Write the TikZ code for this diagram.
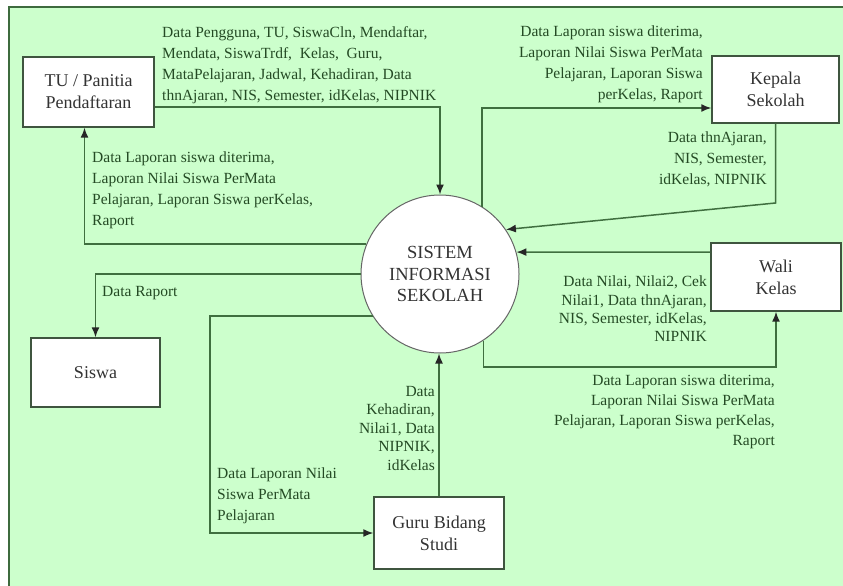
\documentclass[tikz,border=0pt]{standalone}
\usepackage{fontspec}
\setmainfont{Liberation Serif}
\usetikzlibrary{arrows.meta}
\definecolor{bggreen}{HTML}{CCFFCC}
\definecolor{framegreen}{HTML}{3E6B3E}
\definecolor{linegreen}{HTML}{3F6F3F}
\definecolor{lblgreen}{HTML}{244A24}
\definecolor{boxtext}{HTML}{333333}
\definecolor{boxedge}{HTML}{3F553F}
\tikzset{
  entity/.style={draw=boxedge, line width=1.4pt, fill=white, align=center, text=boxtext,
    font=\fontsize{18}{22}\selectfont, inner sep=0pt},
  proc/.style={circle, draw=black!60, line width=1pt, fill=white, align=center, text=boxtext,
    font=\fontsize{18.5}{21.5}\selectfont, inner sep=0pt, minimum size=158pt},
  lbl/.style={inner sep=0pt, text=lblgreen, font=\fontsize{15.5}{21}\selectfont},
  flow/.style={draw=linegreen, line width=1.5pt, -{Latex[length=10pt,width=8pt,color=black!85]}},
}
\begin{document}
\begin{tikzpicture}[x=1pt,y=-1pt]
\useasboundingbox (0,0) rectangle (843,586);
\fill[bggreen] (9,7) rectangle (850,590);
\draw[framegreen, line width=1.5pt] (9,590) -- (9,7) -- (850,7);

% nodes
\node[entity, minimum width=131pt, minimum height=70pt] (T) at (88.5,92) {TU / Panitia\\Pendaftaran};
\node[entity, minimum width=127pt, minimum height=67pt] (K) at (775.5,89.5) {Kepala\\Sekolah};
\node[entity, minimum width=130pt, minimum height=68pt] (W) at (776,277) {Wali\\Kelas};
\node[entity, minimum width=129pt, minimum height=69pt] (S) at (95.5,372.5) {Siswa};
\node[entity, minimum width=130pt, minimum height=72pt] (G) at (439,533) {Guru Bidang\\Studi};
\node[proc] (C) at (440,274) {SISTEM\\INFORMASI\\SEKOLAH};

% flows
\draw[flow] ([yshift=-15pt]T.east) -| (C.north);
\draw[flow] (C.158) -| ([xshift=-4pt]T.south);
\draw[flow] (C.58) |- ([yshift=-18.5pt]K.west);
\draw[flow] (K.south) -- (K.south |- 0,203) -- (C.34);
\draw[flow] ([yshift=25pt]W.west) -- (C.16);
\draw[flow] (C.-57) -- (C.-57 |- 0,367) -| (W.south);
\draw[flow] (C.west) -| (S.north);
\draw[flow] (C.212) -| (210,533) -- (G.west);
\draw[flow] (G.north) -- (G.north |- C.south);

% labels
\node[lbl, anchor=north west, align=left] (l1) at (162,26)
  {Data Pengguna, TU, SiswaCln, Mendaftar,\\Mendata, SiswaTrdf,\ \ Kelas,\ \ Guru,\\MataPelajaran, Jadwal, Kehadiran, Data\\thnAjaran, NIS, Semester, idKelas, NIPNIK};
\node[lbl, anchor=north west, align=left] (l2) at (92,152)
  {Data Laporan siswa diterima,\\Laporan Nilai Siswa PerMata\\Pelajaran, Laporan Siswa perKelas,\\Raport};
\node[lbl, anchor=north east, align=right] (l3) at (703,26)
  {Data Laporan siswa diterima,\\Laporan Nilai Siswa PerMata\\Pelajaran, Laporan Siswa\\perKelas, Raport};
\node[lbl, anchor=north east, align=right] (l4) at (767,132)
  {Data thnAjaran,\\NIS, Semester,\\idKelas, NIPNIK};
\node[lbl, anchor=north east, align=right, font=\fontsize{15.5}{18.3}\selectfont] (l5) at (707,276)
  {Data Nilai, Nilai2, Cek\\Nilai1, Data thnAjaran,\\NIS, Semester, idKelas,\\NIPNIK};
\node[lbl, anchor=north east, align=right, font=\fontsize{15.5}{20}\selectfont] (l6) at (775,375)
  {Data Laporan siswa diterima,\\Laporan Nilai Siswa PerMata\\Pelajaran, Laporan Siswa perKelas,\\Raport};
\node[lbl, anchor=north west] (l7) at (102,286) {Data Raport};
\node[lbl, anchor=north west, align=left] (l8) at (217,468)
  {Data Laporan Nilai\\Siswa PerMata\\Pelajaran};
\node[lbl, anchor=north east, align=right, font=\fontsize{15.5}{18.5}\selectfont] (l9) at (435,386)
  {Data\\Kehadiran,\\Nilai1, Data\\NIPNIK,\\idKelas};
\end{tikzpicture}
\end{document}
